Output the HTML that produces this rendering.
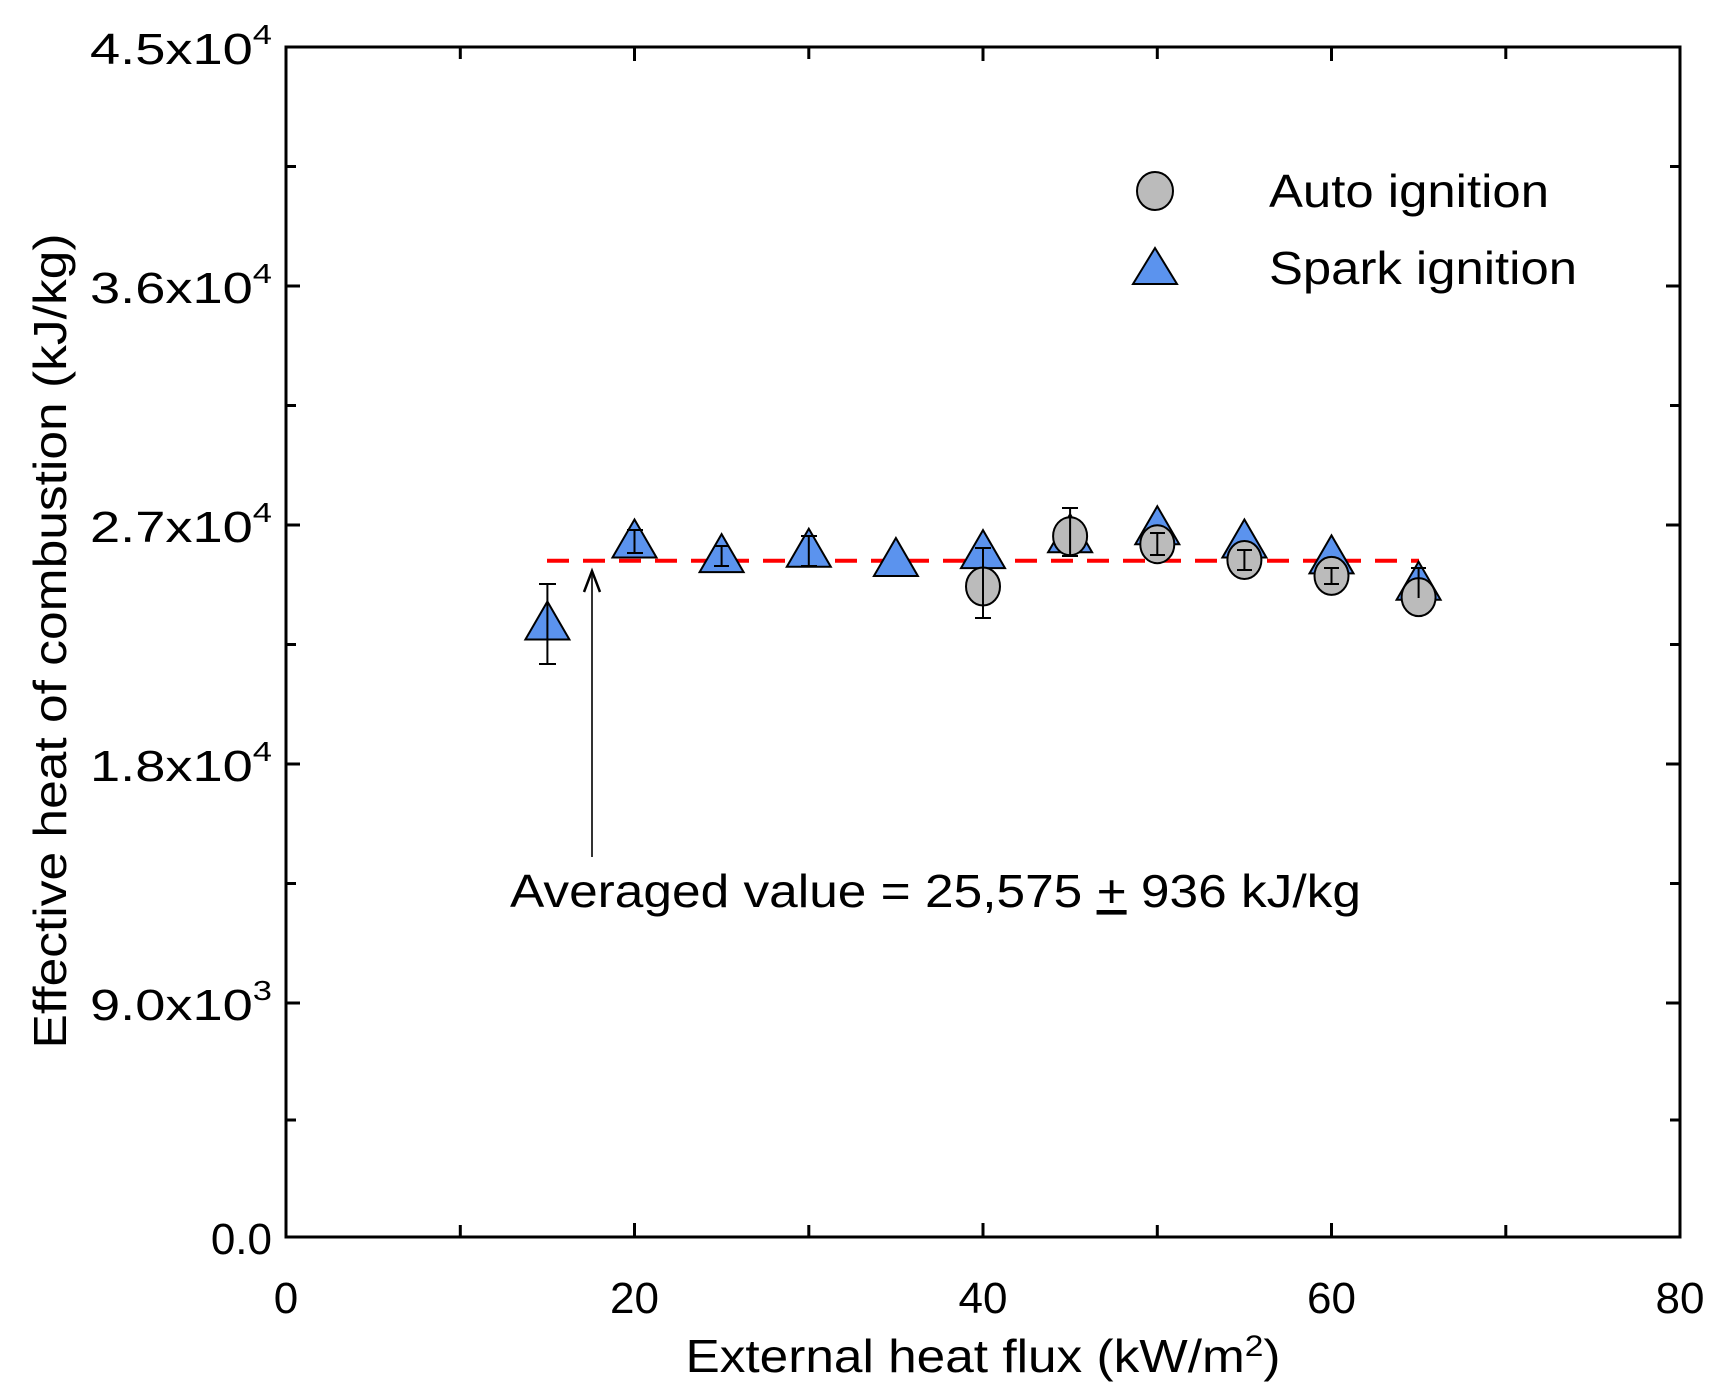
<!DOCTYPE html>
<html><head><meta charset="utf-8"><style>html,body{margin:0;padding:0;background:#fff}svg{display:block}</style></head>
<body>
<svg width="1730" height="1393" viewBox="0 0 1730 1393" xmlns="http://www.w3.org/2000/svg" font-family="Liberation Sans, sans-serif">
<rect x="286" y="47" width="1394" height="1190" fill="none" stroke="#000" stroke-width="3"/>
<g stroke="#000" stroke-width="3">
<path d="M286,286h14M286,525h14M286,764h14M286,1003h14M1680,286h-14M1680,525h-14M1680,764h-14M1680,1003h-14"/>
<path d="M286,166.5h10M286,405.5h10M286,644.5h10M286,883.5h10M286,1120h10M1680,166.5h-10M1680,405.5h-10M1680,644.5h-10M1680,883.5h-10M1680,1120h-10"/>
<path d="M460.3,1237v-12M634.5,1237v-14M808.8,1237v-12M983,1237v-14M1157.3,1237v-12M1331.5,1237v-14M1505.8,1237v-12"/>
<path d="M460.3,47v12M634.5,47v14M808.8,47v12M983,47v14M1157.3,47v12M1331.5,47v14M1505.8,47v12"/>
</g>
<g font-size="44" text-anchor="end" fill="#000">
<text x="272" y="64" textLength="182" lengthAdjust="spacingAndGlyphs">4.5x10<tspan dy="-20" font-size="28">4</tspan></text>
<text x="272" y="303" textLength="182" lengthAdjust="spacingAndGlyphs">3.6x10<tspan dy="-20" font-size="28">4</tspan></text>
<text x="272" y="542" textLength="182" lengthAdjust="spacingAndGlyphs">2.7x10<tspan dy="-20" font-size="28">4</tspan></text>
<text x="272" y="781" textLength="182" lengthAdjust="spacingAndGlyphs">1.8x10<tspan dy="-20" font-size="28">4</tspan></text>
<text x="272" y="1020" textLength="182" lengthAdjust="spacingAndGlyphs">9.0x10<tspan dy="-20" font-size="28">3</tspan></text>
<text x="272" y="1254">0.0</text>
</g>
<g font-size="44" text-anchor="middle">
<text x="286" y="1313">0</text>
<text x="634.5" y="1313">20</text>
<text x="983" y="1313">40</text>
<text x="1331.5" y="1313">60</text>
<text x="1680" y="1313">80</text>
<text x="983" y="1372" font-size="46" textLength="595" lengthAdjust="spacingAndGlyphs">External heat flux (kW/m<tspan dy="-16" font-size="30">2</tspan><tspan dy="16">)</tspan></text>
<text transform="translate(66,641) rotate(-90)" font-size="46" textLength="815" lengthAdjust="spacingAndGlyphs">Effective heat of combustion (kJ/kg)</text>
</g>
<line x1="547" y1="560.7" x2="1419" y2="560.7" stroke="#ff0000" stroke-width="4" stroke-dasharray="22,14"/>
<line x1="592" y1="857" x2="592" y2="574" stroke="#333" stroke-width="2"/>
<path d="M584,592 L592,571 L600,592" fill="none" stroke="#000" stroke-width="2.5"/>
<text x="510" y="907" font-size="46" textLength="851" lengthAdjust="spacingAndGlyphs">Averaged value = 25,575 <tspan text-decoration="underline">+</tspan> 936 kJ/kg</text>
<g fill="#5b93ee" stroke="#000" stroke-width="2">
<polygon points="547.4,601.5 525.4,639.5 569.4,639.5"/>
<polygon points="634.5,519.5 612.5,557.5 656.5,557.5"/>
<polygon points="721.6,534.1 699.6,572.1 743.6,572.1"/>
<polygon points="808.8,528.8 786.8,566.8 830.8,566.8"/>
<polygon points="895.9,538 873.9,576 917.9,576"/>
<polygon points="983,530.1 961,568.1 1005,568.1"/>
<polygon points="1070.1,514.2 1048.1,552.2 1092.1,552.2"/>
<polygon points="1157.3,506.3 1135.3,544.3 1179.3,544.3"/>
<polygon points="1244.4,519.5 1222.4,557.5 1266.4,557.5"/>
<polygon points="1331.5,535.4 1309.5,573.4 1353.5,573.4"/>
<polygon points="1418.6,561.8 1396.6,599.8 1440.6,599.8"/>
</g>
<g fill="#bbbbbb" stroke="#000" stroke-width="2">
<ellipse cx="983" cy="586.5" rx="17" ry="19"/>
<ellipse cx="1070.1" cy="536.2" rx="17" ry="19"/>
<ellipse cx="1157.3" cy="544.2" rx="17" ry="19"/>
<ellipse cx="1244.4" cy="560" rx="17" ry="19"/>
<ellipse cx="1331.5" cy="575.9" rx="17" ry="19"/>
<ellipse cx="1418.6" cy="597.1" rx="17" ry="19"/>
</g>
<g stroke="#000" stroke-width="2">
<path d="M547.4,584v80M539,584h17M539,664h17"/>
<path d="M634.5,530v23M627,530h16M627,553h16"/>
<path d="M721.6,546v20M714,546h15M714,566h15"/>
<path d="M808.8,536v30M801,536h16M801,566h16"/>
<path d="M983,548v70M975,548h16M975,618h16"/>
<path d="M1070.1,508v48M1062,508h16M1062,556h16"/>
<path d="M1157.3,533v22M1150,533h15M1150,555h15"/>
<path d="M1244.4,550v20M1237,550h15M1237,570h15"/>
<path d="M1331.5,568v16M1324,568h15M1324,584h15"/>
<path d="M1418.6,568v30M1411,568h15"/>
</g>
<ellipse cx="1155" cy="191" rx="18" ry="19" fill="#bbbbbb" stroke="#000" stroke-width="2"/>
<polygon points="1155,248 1133,284 1177,284" fill="#5b93ee" stroke="#000" stroke-width="2"/>
<text x="1269" y="207" font-size="46" textLength="280" lengthAdjust="spacingAndGlyphs">Auto ignition</text>
<text x="1269" y="284" font-size="46" textLength="308" lengthAdjust="spacingAndGlyphs">Spark ignition</text>
</svg>
</body></html>
